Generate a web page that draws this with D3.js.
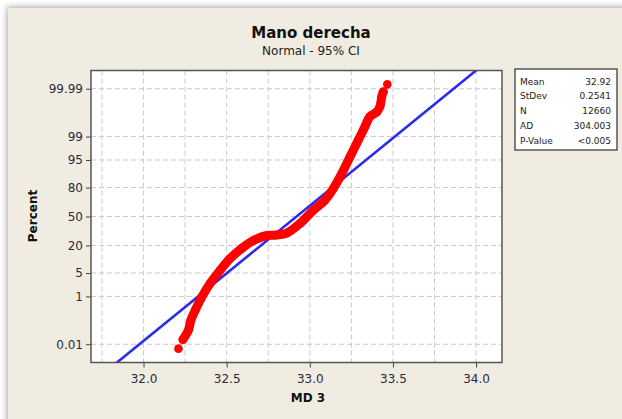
<!DOCTYPE html>
<html><head><meta charset="utf-8">
<script src="https://cdn.jsdelivr.net/npm/d3@7"></script>
<style>
html,body{margin:0;padding:0;background:#fff;}
svg{display:block;font-family:"DejaVu Sans",Verdana,sans-serif;}
</style></head>
<body>
<svg id="chart" width="622" height="419"></svg>
<script>
// ---- data ----
const title = "Mano derecha";
const subtitle = "Normal - 95% CI";
const xLabel = "MD 3";
const yLabel = "Percent";
const xTicks = [32.0, 32.5, 33.0, 33.5, 34.0];
const xTickLabels = ["32.0", "32.5", "33.0", "33.5", "34.0"];
const xGrid = [31.75, 32.0, 32.25, 32.5, 32.75, 33.0, 33.25, 33.5, 33.75, 34.0];
const yTicks = [0.01, 1, 5, 20, 50, 80, 95, 99, 99.99];
const yTickLabels = ["0.01", "1", "5", "20", "50", "80", "95", "99", "99.99"];
const mdValues = [32.210, 32.237, 32.270, 32.285, 32.311, 32.351, 32.401, 32.461, 32.521, 32.591,
  32.661, 32.742, 32.802, 32.862, 32.942, 33.012, 33.092, 33.140, 33.188, 33.242,
  33.292, 33.332, 33.362, 33.403, 33.422, 33.433, 33.442, 33.466];
const percentValues = [0.006, 0.017, 0.047, 0.13, 0.32, 0.97, 2.6, 5.9, 11.1, 17.7,
  24.2, 29.0, 29.5, 31.5, 42.1, 55.6, 68.5, 78.9, 88.7, 95.9,
  98.71, 99.56, 99.82, 99.884, 99.932, 99.976, 99.986, 99.994];
const mean = 32.92;
const stdev = 0.2541;
const statLabels = ["Mean", "StDev", "N", "AD", "P-Value"];
const statValues = ["32.92", "0.2541", "12660", "304.003", "<0.005"];

// inverse standard normal CDF (Acklam) used as probability-scale transform
function probit(p) {
  const a = [-3.969683028665376e+01, 2.209460984245205e+02, -2.759285104469687e+02, 1.383577518672690e+02, -3.066479806614716e+01, 2.506628277459239e+00];
  const b = [-5.447609879822406e+01, 1.615858368580409e+02, -1.556989798598866e+02, 6.680131188771972e+01, -1.328068155288572e+01];
  const c = [-7.784894002430293e-03, -3.223964580411365e-01, -2.400758277161838e+00, -2.549732539343734e+00, 4.374664141464968e+00, 2.938163982698783e+00];
  const d = [7.784695709041462e-03, 3.224671290700398e-01, 2.445134137142996e+00, 3.754408661907416e+00];
  const pl = 0.02425, ph = 1 - pl;
  let q, r;
  if (p < pl) { q = Math.sqrt(-2 * Math.log(p));
    return (((((c[0]*q+c[1])*q+c[2])*q+c[3])*q+c[4])*q+c[5]) / ((((d[0]*q+d[1])*q+d[2])*q+d[3])*q+1); }
  if (p <= ph) { q = p - 0.5; r = q*q;
    return (((((a[0]*r+a[1])*r+a[2])*r+a[3])*r+a[4])*r+a[5])*q / (((((b[0]*r+b[1])*r+b[2])*r+b[3])*r+b[4])*r+1); }
  q = Math.sqrt(-2 * Math.log(1 - p));
  return -(((((c[0]*q+c[1])*q+c[2])*q+c[3])*q+c[4])*q+c[5]) / ((((d[0]*q+d[1])*q+d[2])*q+d[3])*q+1);
}

// ---- layout ----
const svg = d3.select("#chart");
const L = 91, R = 502, T = 70.5, B = 362.5;
const zMax = 4.25;
const x = d3.scaleLinear().domain([31.684, 34.156]).range([L, R]);
const z = d3.scaleLinear().domain([-zMax, zMax]).range([B, T]);
const y = p => z(probit(p / 100));

const defs = svg.append("defs");
const f = defs.append("filter").attr("id", "sh").attr("x", "-5%").attr("y", "-5%").attr("width", "110%").attr("height", "110%");
f.append("feGaussianBlur").attr("in", "SourceAlpha").attr("stdDeviation", 3);
f.append("feOffset").attr("dx", -1).attr("dy", -1).attr("result", "b");
f.append("feComponentTransfer").append("feFuncA").attr("type", "linear").attr("slope", 0.35);
const fm = f.append("feMerge"); fm.append("feMergeNode"); fm.append("feMergeNode").attr("in", "SourceGraphic");
defs.append("clipPath").attr("id", "clip").append("rect")
  .attr("x", L).attr("y", T).attr("width", R - L).attr("height", B - T);

svg.append("rect").attr("x", 8).attr("y", 8).attr("width", 640).attr("height", 440)
  .attr("fill", "#f0ece2").attr("filter", "url(#sh)");

// titles
svg.append("text").attr("x", 311).attr("y", 38).attr("text-anchor", "middle")
  .attr("font-size", 15).attr("font-weight", "bold").attr("fill", "#111").text(title);
svg.append("text").attr("x", 311).attr("y", 55).attr("text-anchor", "middle")
  .attr("font-size", 12).attr("fill", "#222").text(subtitle);

// plot area
svg.append("rect").attr("x", L).attr("y", T).attr("width", R - L).attr("height", B - T).attr("fill", "#fff");

const grid = svg.append("g").attr("stroke", "#c9c9c9").attr("stroke-dasharray", "5,3").attr("stroke-width", 1);
grid.selectAll("line.v").data(xGrid).join("line")
  .attr("x1", d => x(d)).attr("x2", d => x(d)).attr("y1", T).attr("y2", B);
grid.selectAll("line.h").data(yTicks).join("line")
  .attr("x1", L).attr("x2", R).attr("y1", d => y(d)).attr("y2", d => y(d));

// axes
const xAxis = svg.append("g").attr("transform", `translate(0,${B})`)
  .call(d3.axisBottom(x).tickValues(xTicks).tickFormat((d, i) => xTickLabels[i]).tickSize(5).tickPadding(4));
const yAxis = svg.append("g").attr("transform", `translate(${L},0)`);
const yAxisScale = Object.assign(v => y(v), { range: () => [B, T], domain: () => [0.0001, 99.9999], copy: function () { return this; } });
yAxis.call(d3.axisLeft(yAxisScale).tickValues(yTicks).tickFormat((d, i) => yTickLabels[i]).tickSize(5).tickPadding(3));
[xAxis, yAxis].forEach(g => {
  g.select(".domain").remove();
  g.selectAll("line").attr("stroke", "#444");
  g.selectAll("text").attr("font-size", 12).attr("fill", "#2a2a3a").attr("font-family", "DejaVu Sans, Verdana, sans-serif");
});
xAxis.selectAll("text").attr("dy", "0.95em");

// axis labels
svg.append("text").attr("x", 308).attr("y", 402).attr("text-anchor", "middle")
  .attr("font-size", 12).attr("font-weight", "bold").attr("fill", "#111").text(xLabel);
svg.append("text").attr("transform", "translate(37,216) rotate(-90)").attr("text-anchor", "middle")
  .attr("font-size", 12).attr("font-weight", "bold").attr("fill", "#111").text(yLabel);

// fitted line and points
const plot = svg.append("g").attr("clip-path", "url(#clip)");
const fitZ = [-zMax - 0.5, zMax + 0.5];
plot.append("path").datum(fitZ)
  .attr("d", d3.line().x(d => x(mean + d * stdev)).y(d => z(d)))
  .attr("stroke", "#2b2bf0").attr("stroke-width", 2.6).attr("fill", "none");

const pts = mdValues.map((v, i) => [v, percentValues[i]]);
plot.append("path").datum(pts.slice(1, pts.length - 1))
  .attr("d", d3.line().x(d => x(d[0])).y(d => y(d[1])).curve(d3.curveCatmullRom))
  .attr("stroke", "#ff0000").attr("stroke-width", 9).attr("fill", "none")
  .attr("stroke-linecap", "round").attr("stroke-linejoin", "round");
plot.selectAll("circle").data(pts).join("circle")
  .attr("cx", d => x(d[0])).attr("cy", d => y(d[1])).attr("r", 4.3).attr("fill", "#ff0000");

// frame
svg.append("rect").attr("x", L).attr("y", T).attr("width", R - L).attr("height", B - T)
  .attr("fill", "none").attr("stroke", "#555").attr("stroke-width", 1.5);

// stats box
const bx = 515, by = 69, bw = 102, bh = 81;
svg.append("rect").attr("x", bx).attr("y", by).attr("width", bw).attr("height", bh)
  .attr("fill", "#fff").attr("stroke", "#555").attr("stroke-width", 1.5);
const st = svg.append("g").attr("font-size", 9).attr("fill", "#222");
statLabels.forEach((s, i) => {
  const yy = 81.5 + i * 14.8;
  st.append("text").attr("x", bx + 5).attr("y", yy).attr("dy", "0.35em").text(s);
  st.append("text").attr("x", bx + bw - 6).attr("y", yy).attr("dy", "0.35em").attr("text-anchor", "end").text(statValues[i]);
});
</script>
</body></html>
